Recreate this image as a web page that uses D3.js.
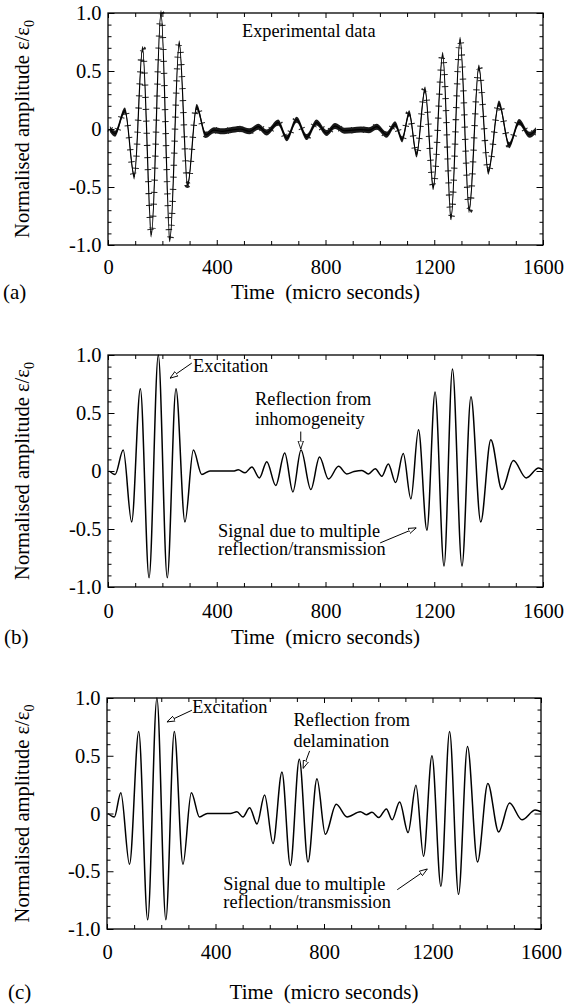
<!DOCTYPE html>
<html>
<head>
<meta charset="utf-8">
<script src="https://cdn.jsdelivr.net/npm/d3@7"></script>
<style>
  body { margin: 0; background: #fff; }
  svg { display: block; font-family: "Liberation Serif", "Times New Roman", serif; }
</style>
</head>
<body>
<svg id="chart"></svg>
<script>
// axis ticks
const timeTicks = [0, 400, 800, 1200, 1600];
const timeMinorTicks = [100, 200, 300, 500, 600, 700, 900, 1000, 1100, 1300, 1400, 1500];
const ampTicks = [-1, -0.5, 0, 0.5, 1];
const ampMinorTicks = [-0.9, -0.8, -0.7, -0.6, -0.4, -0.3, -0.2, -0.1, 0.1, 0.2, 0.3, 0.4, 0.6, 0.7, 0.8, 0.9];

// (a) experimental record, turning points (time in micro s, amplitude)
const expTime = [7, 26, 62, 97, 127, 160, 195, 228, 262, 293, 326, 360, 390, 420, 450, 486, 520, 553, 584, 626,
  658, 694, 731, 767, 804, 835, 870, 900, 930, 960, 988, 1025, 1056, 1082, 1108, 1135, 1166, 1197, 1231, 1262,
  1295, 1329, 1364, 1399, 1438, 1476, 1512, 1550, 1574];
const expAmp = [0, -0.04, 0.16, -0.41, 0.69, -0.91, 1.0, -0.95, 0.74, -0.48, 0.19, -0.05, -0.01, -0.02, -0.01, 0.0, -0.02, 0.02, -0.03, 0.055,
  -0.08, 0.08, -0.07, 0.055, -0.035, 0.025, -0.015, -0.01, -0.005, -0.01, 0.02, -0.05, 0.04, -0.09, 0.135, -0.22, 0.34, -0.5, 0.64, -0.76,
  0.77, -0.70, 0.53, -0.37, 0.22, -0.14, 0.06, -0.05, -0.01];

// (b) simulation with inhomogeneity
const inhomTime = [5, 26, 56, 87, 119, 151, 185, 218, 250, 283, 314, 345, 375, 420, 461, 479, 504, 529, 557, 584,
  617, 650, 680, 710, 746, 778, 811, 848, 878, 905, 934, 958, 983, 1007, 1031, 1058, 1086, 1114, 1142, 1173,
  1203, 1236, 1267, 1302, 1335, 1371, 1408, 1449, 1491, 1538, 1584, 1600];
const inhomAmp = [0, -0.03, 0.18, -0.44, 0.71, -0.92, 1.0, -0.92, 0.71, -0.44, 0.18, -0.03, 0, 0, 0, 0.01, -0.015, 0.035, -0.06, 0.08,
  -0.125, 0.155, -0.18, 0.18, -0.16, 0.12, -0.07, 0.04, -0.025, -0.005, 0.005, -0.025, 0.02, -0.045, 0.06, -0.10, 0.15, -0.24, 0.355, -0.51,
  0.68, -0.82, 0.88, -0.82, 0.64, -0.44, 0.27, -0.16, 0.09, -0.06, 0.025, 0.01];

// (c) simulation with delamination
const delamTime = [4, 27, 51, 83, 117, 150, 184, 217, 248, 280, 311, 341, 370, 420, 455, 479, 501, 526, 553, 581,
  612, 645, 676, 709, 741, 774, 805, 845, 885, 934, 956, 977, 1002, 1030, 1051, 1079, 1110, 1139, 1167, 1198,
  1231, 1263, 1296, 1329, 1366, 1404, 1444, 1484, 1530, 1579, 1600];
const delamAmp = [0, -0.03, 0.18, -0.44, 0.71, -0.92, 1.0, -0.92, 0.71, -0.44, 0.18, -0.03, 0, 0, 0, 0.015, -0.03, 0.05, -0.09, 0.16,
  -0.26, 0.36, -0.45, 0.47, -0.42, 0.30, -0.18, 0.08, -0.03, 0.015, -0.01, 0.01, -0.035, 0.04, -0.055, 0.10, -0.165, 0.245, -0.37, 0.50,
  -0.63, 0.71, -0.70, 0.58, -0.42, 0.26, -0.16, 0.09, -0.055, 0.03, 0.015];

// annotations: text lines at (time, amplitude), arrows from -> to in data units
const notesA = [
  { text: ["Experimental data"], t: 493, v: [0.79] }
];
const notesB = [
  { text: ["Excitation"], t: 313, v: [0.854], from: [308, 0.93], to: [228, 0.80] },
  { text: ["Reflection from", "inhomogeneity"], t: 541, v: [0.57, 0.40], from: [709, 0.34], to: [709, 0.19] },
  { text: ["Signal due to multiple", "reflection/transmission"], t: 405, v: [-0.565, -0.72], from: [1001, -0.62], to: [1134, -0.49] }
];
const notesC = [
  { text: ["Excitation"], t: 314, v: [0.868], from: [313, 0.894], to: [221, 0.793] },
  { text: ["Reflection from", "delamination"], t: 688, v: [0.757, 0.575], from: [747, 0.542], to: [723, 0.39] },
  { text: ["Signal due to multiple", "reflection/transmission"], t: 429, v: [-0.66, -0.816], from: [1070, -0.66], to: [1181, -0.48] }
];

const panels = [
  { letter: "(a)", time: expTime, amp: expAmp, notes: notesA, markers: true,
    left: 108, right: 543, top: 13, bottom: 245, tickPad: 14, labelY: 299, letterX: 3 },
  { letter: "(b)", time: inhomTime, amp: inhomAmp, notes: notesB, markers: false,
    left: 108, right: 543, top: 355, bottom: 587, tickPad: 16, labelY: 644, letterX: 4 },
  { letter: "(c)", time: delamTime, amp: delamAmp, notes: notesC, markers: false,
    left: 107, right: 541, top: 698, bottom: 929, tickPad: 15, labelY: 999, letterX: 8 }
];

const width = 564;
const height = 1004;

const svg = d3.select("#chart").attr("width", width).attr("height", height);

svg.append("defs").append("marker")
  .attr("id", "arrow")
  .attr("viewBox", "0 0 10 10")
  .attr("refX", 10).attr("refY", 5)
  .attr("markerWidth", 8).attr("markerHeight", 8)
  .attr("markerUnits", "userSpaceOnUse")
  .attr("orient", "auto")
  .append("path")
  .attr("d", "M0,1.6L10,5L0,8.4Z")
  .attr("fill", "#fff")
  .attr("stroke", "#000")
  .attr("stroke-width", 1.1);

const ampFormat = (d) => (d === 0 ? "0" : d.toFixed(1));

const cleanAxis = (g) => {
  g.select(".domain").remove();
  g.attr("font-family", null).attr("font-size", 20.5);
};

const drawPanel = (p) => {
  const x = d3.scaleLinear().domain([0, 1600]).range([p.left, p.right]);
  const y = d3.scaleLinear().domain([-1, 1]).range([p.bottom, p.top]);
  const g = svg.append("g");

  const pts = p.time.map((t, i) => [t, p.amp[i]]);
  const line = d3.line()
    .x((d) => x(d[0]))
    .y((d) => y(d[1]))
    .curve(d3.curveMonotoneX);

  if (p.markers) {
    // "+" sample markers: vertical arms merge into a band, horizontal arms as short bars
    const band = d3.area()
      .x((d) => x(d[0]))
      .y0((d) => y(d[1]) - 3)
      .y1((d) => y(d[1]) + 3)
      .curve(d3.curveMonotoneX);
    g.append("path").attr("d", band(pts)).attr("fill", "#1a1a1a");
    g.append("path")
      .attr("d", line(pts))
      .attr("fill", "none")
      .attr("stroke", "#222")
      .attr("stroke-width", 6.5)
      .attr("stroke-dasharray", "1 11");
  }

  g.append("path")
    .attr("d", line(pts))
    .attr("fill", "none")
    .attr("stroke", "#000")
    .attr("stroke-width", p.markers ? 1.2 : 1.5);

  // axes with inward ticks on all sides
  g.append("g").attr("transform", `translate(0,${p.bottom})`)
    .call(d3.axisBottom(x).tickValues(timeTicks).tickSizeInner(-5).tickSizeOuter(0)
      .tickPadding(p.tickPad).tickFormat(d3.format("d")))
    .call(cleanAxis);
  g.append("g").attr("transform", `translate(0,${p.bottom})`)
    .call(d3.axisBottom(x).tickValues(timeMinorTicks).tickSize(-4).tickFormat(""))
    .call(cleanAxis);
  g.append("g").attr("transform", `translate(0,${p.top})`)
    .call(d3.axisTop(x).tickValues(timeTicks).tickSize(-5).tickFormat(""))
    .call(cleanAxis);
  g.append("g").attr("transform", `translate(0,${p.top})`)
    .call(d3.axisTop(x).tickValues(timeMinorTicks).tickSize(-4).tickFormat(""))
    .call(cleanAxis);

  g.append("g").attr("transform", `translate(${p.left},0)`)
    .call(d3.axisLeft(y).tickValues(ampTicks).tickSizeInner(-6.5).tickSizeOuter(0)
      .tickPadding(6.5).tickFormat(ampFormat))
    .call(cleanAxis);
  g.append("g").attr("transform", `translate(${p.left},0)`)
    .call(d3.axisLeft(y).tickValues(ampMinorTicks).tickSize(-3.5).tickFormat(""))
    .call(cleanAxis);
  g.append("g").attr("transform", `translate(${p.right},0)`)
    .call(d3.axisRight(y).tickValues(ampTicks).tickSize(-6.5).tickFormat(""))
    .call(cleanAxis);
  g.append("g").attr("transform", `translate(${p.right},0)`)
    .call(d3.axisRight(y).tickValues(ampMinorTicks).tickSize(-3.5).tickFormat(""))
    .call(cleanAxis);

  g.append("rect")
    .attr("x", p.left).attr("y", p.top)
    .attr("width", p.right - p.left).attr("height", p.bottom - p.top)
    .attr("fill", "none").attr("stroke", "#000").attr("stroke-width", 1.3);

  // axis titles
  g.append("text")
    .attr("x", (p.left + p.right) / 2)
    .attr("y", p.labelY)
    .attr("text-anchor", "middle")
    .attr("font-size", 21)
    .style("white-space", "pre")
    .text("Time  (micro seconds)");

  g.append("text")
    .attr("x", p.letterX)
    .attr("y", p.labelY)
    .attr("font-size", 21)
    .text(p.letter);

  const yTitle = g.append("text")
    .attr("transform", `translate(29,${(p.top + p.bottom) / 2}) rotate(-90)`)
    .attr("text-anchor", "middle")
    .attr("font-size", 20.5);
  yTitle.append("tspan").text("Normalised amplitude \u03b5/\u03b5");
  yTitle.append("tspan").attr("font-size", 14).attr("dy", 5).text("0");

  // annotations
  p.notes.forEach((n) => {
    n.text.forEach((s, i) => {
      g.append("text")
        .attr("x", x(n.t))
        .attr("y", y(n.v[i]))
        .attr("font-size", 18.3)
        .text(s);
    });
    if (n.from) {
      g.append("line")
        .attr("x1", x(n.from[0])).attr("y1", y(n.from[1]))
        .attr("x2", x(n.to[0])).attr("y2", y(n.to[1]))
        .attr("stroke", "#000")
        .attr("stroke-width", 1)
        .attr("marker-end", "url(#arrow)");
    }
  });
};

panels.forEach(drawPanel);
</script>
</body>
</html>
